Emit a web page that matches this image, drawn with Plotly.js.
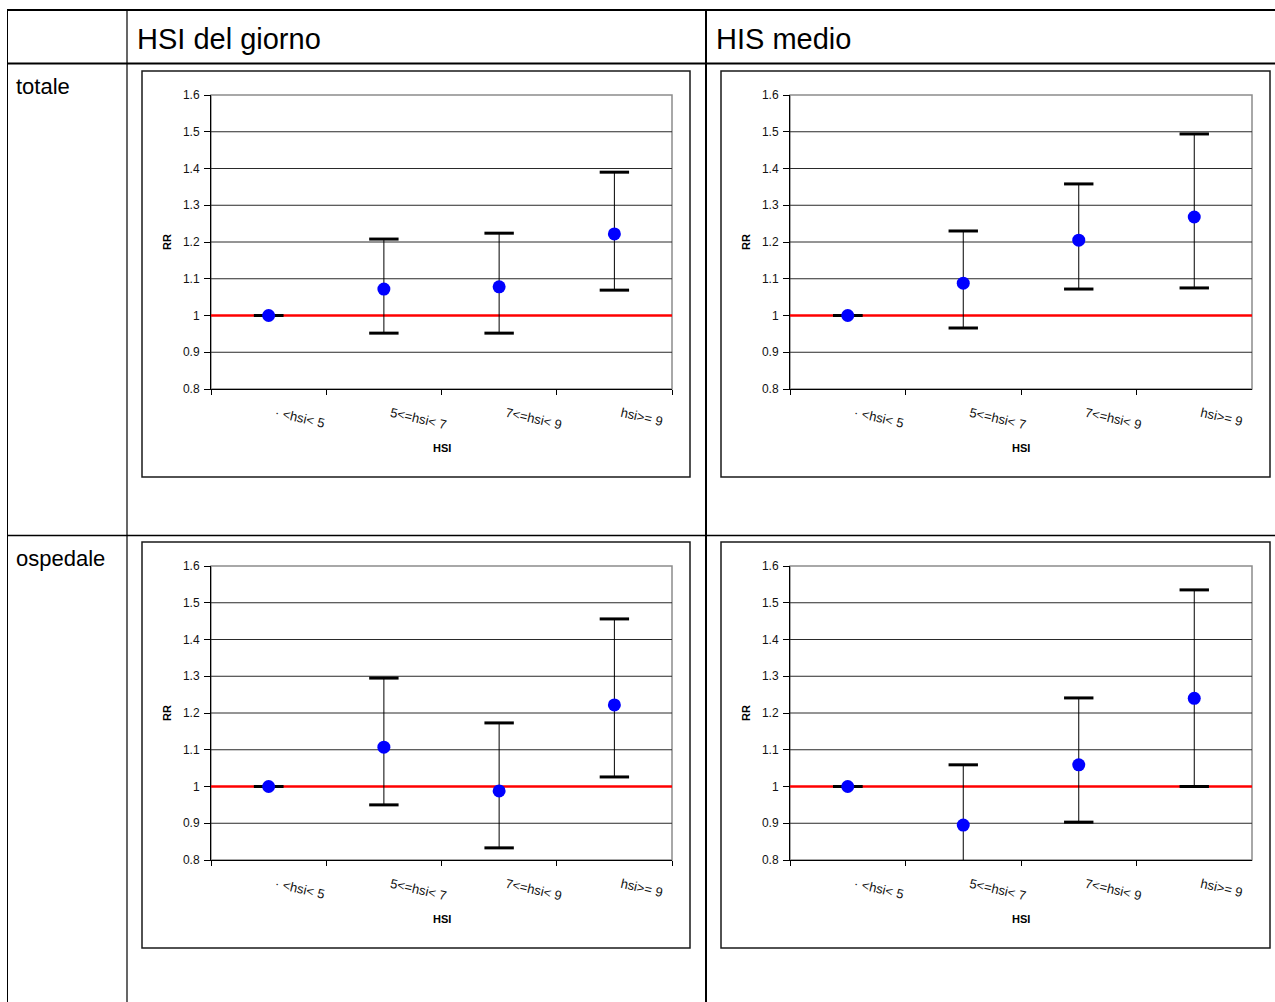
<!DOCTYPE html>
<html>
<head>
<meta charset="utf-8">
<script src="https://cdn.plot.ly/plotly-3.0.1.min.js"></script>
<style>html,body{margin:0;padding:0;background:#fff;}#chart{width:1275px;height:1002px;}</style>
</head>
<body>
<div id="chart"></div>
<script>
// ---- data ----
const categories = ['· <hsi< 5', '5<=hsi< 7', '7<=hsi< 9', 'hsi>= 9'];
const columnTitles = ['HSI del giorno', 'HIS medio'];
const rowTitles = ['totale', 'ospedale'];
const xTitle = 'HSI';
const yTitle = 'RR';

// totale / HSI del giorno
const totGiornoRR   = [1.000, 1.072, 1.078, 1.222];
const totGiornoLow  = [1.000, 0.952, 0.952, 1.069];
const totGiornoHigh = [1.000, 1.208, 1.224, 1.390];
// totale / HIS medio
const totMedioRR   = [1.000, 1.088, 1.205, 1.268];
const totMedioLow  = [1.000, 0.966, 1.072, 1.075];
const totMedioHigh = [1.000, 1.230, 1.358, 1.494];
// ospedale / HSI del giorno
const ospGiornoRR   = [1.000, 1.107, 0.988, 1.222];
const ospGiornoLow  = [1.000, 0.950, 0.833, 1.026];
const ospGiornoHigh = [1.000, 1.295, 1.173, 1.456];
// ospedale / HIS medio
const ospMedioRR   = [1.000, 0.895, 1.059, 1.240];
const ospMedioLow  = [1.000, 0.776, 0.903, 1.000];
const ospMedioHigh = [1.000, 1.059, 1.241, 1.535];

const yRange = [0.8, 1.6];
const yGridValues = [0.9, 1.0, 1.1, 1.2, 1.3, 1.4, 1.5];
const refValue = 1;

// ---- layout helpers (pixel -> paper) ----
const W = 1275, H = 1002;
const px = v => v / W;
const py = v => 1 - v / H;
const FONT = 'Liberation Sans, Arial, sans-serif';

const panels = [
  {rr: totGiornoRR, lo: totGiornoLow, hi: totGiornoHigh, x0: 211, x1: 672, y0: 95, y1: 389, frame: [142, 71, 690, 477]},
  {rr: totMedioRR,  lo: totMedioLow,  hi: totMedioHigh,  x0: 790, x1: 1252, y0: 95, y1: 389, frame: [721, 71, 1270, 477]},
  {rr: ospGiornoRR, lo: ospGiornoLow, hi: ospGiornoHigh, x0: 211, x1: 672, y0: 566, y1: 860, frame: [142, 542, 690, 948]},
  {rr: ospMedioRR,  lo: ospMedioLow,  hi: ospMedioHigh,  x0: 790, x1: 1252, y0: 566, y1: 860, frame: [721, 542, 1270, 948]}
];

const traces = [];
const layout = {
  width: W, height: H,
  margin: {l: 0, r: 0, t: 0, b: 0},
  paper_bgcolor: '#fff', plot_bgcolor: 'rgba(0,0,0,0)',
  showlegend: false,
  font: {family: FONT, color: '#000'},
  shapes: [], annotations: []
};

panels.forEach((p, i) => {
  const n = i + 1;
  const xa = 'x' + (n === 1 ? '' : n), ya = 'y' + (n === 1 ? '' : n);
  const xk = 'xaxis' + (n === 1 ? '' : n), yk = 'yaxis' + (n === 1 ? '' : n);

  // stems
  traces.push({
    type: 'scatter', mode: 'markers', x: categories, y: p.rr,
    xaxis: xa, yaxis: ya, cliponaxis: false, hoverinfo: 'skip',
    marker: {opacity: 0, size: 1},
    error_y: {type: 'data', symmetric: false,
      array: p.hi.map((h, k) => h - p.rr[k]),
      arrayminus: p.lo.map((l, k) => p.rr[k] - l),
      width: 0, thickness: 1, color: '#000'}
  });
  // caps
  traces.push({
    type: 'scatter', mode: 'markers',
    x: categories.concat(categories), y: p.hi.concat(p.lo),
    xaxis: xa, yaxis: ya, hoverinfo: 'skip',
    marker: {symbol: 'line-ew', size: 21, color: '#000', line: {color: '#000', width: 3}}
  });
  // points
  traces.push({
    type: 'scatter', mode: 'markers', x: categories, y: p.rr,
    xaxis: xa, yaxis: ya,
    marker: {symbol: 'circle', size: 13, color: '#0000ff'}
  });

  layout[xk] = {
    domain: [px(p.x0), px(p.x1)], anchor: ya,
    type: 'category', range: [-0.5, 3.5], tickson: 'boundaries',
    ticks: 'outside', ticklen: 5, tickcolor: '#000', tickwidth: 1,
    showline: true, linecolor: '#000', linewidth: 1,
    showgrid: false, zeroline: false, tickangle: 13,
    ticklabelstandoff: 11, ticklabelshift: 7,
    tickfont: {family: FONT, size: 13, color: '#111'}, fixedrange: true
  };
  layout[yk] = {
    domain: [py(p.y1), py(p.y0)], anchor: xa,
    range: yRange, tick0: 0.8, dtick: 0.1,
    ticks: 'outside', ticklen: 6, tickcolor: '#000', tickwidth: 1,
    showline: true, linecolor: '#000', linewidth: 1,
    showgrid: false, zeroline: false,
    ticklabelstandoff: 2,
    tickfont: {family: FONT, size: 12, color: '#111'}, fixedrange: true
  };

  // plot area border (gray)
  layout.shapes.push({type: 'rect', xref: xa + ' domain', yref: ya + ' domain', x0: 0, x1: 1, y0: 0, y1: 1,
    line: {color: '#8c8c8c', width: 1.5}, layer: 'below'});
  // horizontal gridlines
  yGridValues.forEach(v => layout.shapes.push({type: 'line', xref: xa + ' domain', yref: ya,
    x0: 0, x1: 1, y0: v, y1: v, line: {color: '#2a2a2a', width: 1}, layer: 'below'}));
  // reference line at RR = 1
  layout.shapes.push({type: 'line', xref: xa + ' domain', yref: ya, x0: 0, x1: 1, y0: refValue, y1: refValue,
    line: {color: '#ff0000', width: 2.5}, layer: 'below'});
  // chart frame
  const f = p.frame;
  layout.shapes.push({type: 'rect', xref: 'paper', yref: 'paper', x0: px(f[0]), x1: px(f[2]), y0: py(f[3]), y1: py(f[1]),
    line: {color: '#1a1a1a', width: 1.5}});

  // axis titles
  layout.annotations.push({xref: 'paper', yref: 'paper', x: px((p.x0 + p.x1) / 2), y: py(p.y1 + 59),
    text: '<b>' + xTitle + '</b>', showarrow: false, xanchor: 'center', yanchor: 'middle',
    font: {family: FONT, size: 11, color: '#000'}});
  layout.annotations.push({xref: 'paper', yref: 'paper', x: px(p.x0 - 44), y: py((p.y0 + p.y1) / 2),
    text: '<b>' + yTitle + '</b>', showarrow: false, textangle: -90, xanchor: 'center', yanchor: 'middle',
    font: {family: FONT, size: 11, color: '#000'}});
});

// table lines
const tl = (x0, y0, x1, y1, w) => layout.shapes.push({type: 'line', xref: 'paper', yref: 'paper',
  x0: px(x0), x1: px(x1), y0: py(y0), y1: py(y1), line: {color: '#000', width: w}});
tl(7, 10, 1275, 10, 2);
tl(7, 63.5, 1275, 63.5, 2);
tl(7, 535.5, 1275, 535.5, 1.5);
tl(7.5, 10, 7.5, 1002, 1);
tl(127, 10, 127, 1002, 1.2);
tl(706, 10, 706, 1002, 2);

// table texts
layout.annotations.push({xref: 'paper', yref: 'paper', x: px(135), y: py(39), xanchor: 'left', yanchor: 'middle',
  text: columnTitles[0], showarrow: false, font: {family: FONT, size: 29, color: '#000'}});
layout.annotations.push({xref: 'paper', yref: 'paper', x: px(714), y: py(39), xanchor: 'left', yanchor: 'middle',
  text: columnTitles[1], showarrow: false, font: {family: FONT, size: 29, color: '#000'}});
layout.annotations.push({xref: 'paper', yref: 'paper', x: px(14), y: py(86), xanchor: 'left', yanchor: 'middle',
  text: rowTitles[0], showarrow: false, font: {family: FONT, size: 22, color: '#000'}});
layout.annotations.push({xref: 'paper', yref: 'paper', x: px(14), y: py(558), xanchor: 'left', yanchor: 'middle',
  text: rowTitles[1], showarrow: false, font: {family: FONT, size: 22, color: '#000'}});

Plotly.newPlot('chart', traces, layout, {displayModeBar: false, staticPlot: true});
</script>
</body>
</html>
